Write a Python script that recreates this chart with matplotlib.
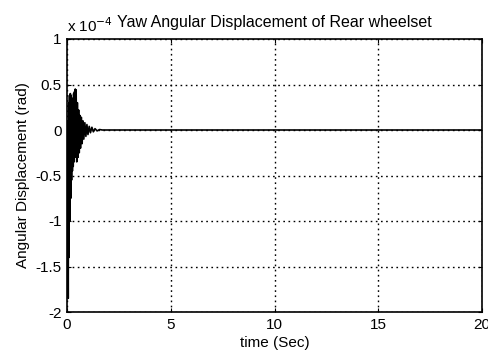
import matplotlib
matplotlib.use("Agg")
import matplotlib.pyplot as plt
from matplotlib.ticker import FixedLocator

plt.rcParams['font.family'] = ['Liberation Sans Narrow', 'Liberation Sans', 'DejaVu Sans']

# Yaw angular displacement of the rear wheelset, in units of 1e-4 rad
time_s = [0.00, 0.03, 0.06, 0.08, 0.10, 0.12, 0.14, 0.16, 0.18, 0.20, 0.22,
          0.24, 0.26, 0.28, 0.30, 0.32, 0.34, 0.36, 0.38, 0.40, 0.42, 0.44,
          0.47, 0.50, 0.53, 0.56, 0.59, 0.62, 0.65, 0.69, 0.73, 0.77, 0.81,
          0.86, 0.91, 0.96, 1.01, 1.07, 1.13, 1.20, 1.27, 1.35, 1.45, 1.57,
          1.70, 20.0]
yaw_e4 = [0.00, 0.10, -1.85, 0.30, -1.40, 0.38, -1.00, 0.40, -0.75, 0.38,
          -0.55, 0.35, -0.45, 0.30, -0.40, 0.40, -0.35, 0.42, -0.30, 0.45,
          -0.25, 0.44, -0.35, 0.30, -0.30, 0.22, -0.25, 0.16, -0.20, 0.14,
          -0.15, 0.10, -0.10, 0.08, -0.07, 0.06, -0.05, 0.04, -0.03, 0.03,
          -0.02, 0.015, -0.01, 0.005, 0.0, 0.0]

x_ticks = [0, 5, 10, 15, 20]
y_ticks = [-2, -1.5, -1, -0.5, 0, 0.5, 1]
y_tick_labels = ['-2', '-1.5', '-1', '-0.5', '0', '0.5', '1']

fig = plt.figure(figsize=(4.88, 3.56), dpi=100)
ax = fig.add_axes([67/488, 1 - 312/356, (482-67)/488, (312-39)/356])

ax.plot(time_s, yaw_e4, color='black', linewidth=1.2)

ax.set_xlim(0, 20)
ax.set_ylim(-2, 1)
ax.xaxis.set_major_locator(FixedLocator(x_ticks))
ax.set_yticks(y_ticks)
ax.set_yticklabels(y_tick_labels)
ax.tick_params(direction='in', length=3, width=0.8, top=True, right=True,
               labelsize=11, pad=4, colors='black')
ax.grid(True, linestyle=(0, (1.2, 2.5)), color='black', linewidth=1.0)
for sp in ax.spines.values():
    sp.set_linewidth(1.2)

ax.set_title('Yaw Angular Displacement of Rear wheelset', fontsize=11.5, pad=9)
ax.set_xlabel('time (Sec)', fontsize=11, labelpad=3)
ax.set_ylabel('Angular Displacement (rad)', fontsize=11, labelpad=4)
ax.text(0.0, 1.015, r'x 10$^{-4}$', transform=ax.transAxes, fontsize=11,
        ha='left', va='bottom')

fig.savefig('out.png', dpi=100)
